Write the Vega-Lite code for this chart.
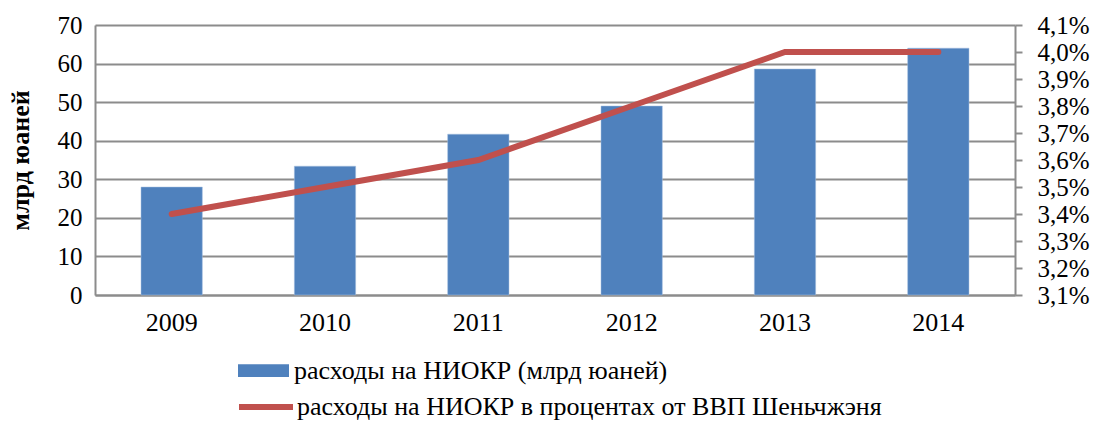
{
  "$schema": "https://vega.github.io/schema/vega-lite/v6.json",
  "width": 920,
  "height": 270,
  "autosize": {"type": "none"},
  "padding": {"left": 95, "top": 25, "right": 83, "bottom": 128},
  "background": "white",
  "config": {
    "font": "'Times New Roman', 'Liberation Serif', serif",
    "view": {"stroke": null},
    "axis": {"labelFont": "'Times New Roman', 'Liberation Serif', serif", "titleFont": "'Times New Roman', 'Liberation Serif', serif", "labelColor": "#000", "titleColor": "#000", "labelFontSize": 25},
    "legend": {"labelFont": "'Times New Roman', 'Liberation Serif', serif"}
  },
  "data": {
    "values": [
      {"year": "2009", "value": 28.0, "pct": 0.034},
      {"year": "2010", "value": 33.4, "pct": 0.035},
      {"year": "2011", "value": 41.7, "pct": 0.036},
      {"year": "2012", "value": 49.0, "pct": 0.038},
      {"year": "2013", "value": 58.6, "pct": 0.040},
      {"year": "2014", "value": 64.0, "pct": 0.040}
    ]
  },
  "encoding": {
    "x": {
      "field": "year", "type": "nominal",
      "scale": {"paddingInner": 0.6, "paddingOuter": 0.3},
      "axis": {"title": null, "labelAngle": 0, "labelFontSize": 26, "tickSize": 0, "labelPadding": 14, "domainColor": "#8c8c8c", "domainWidth": 2, "grid": false}
    }
  },
  "layer": [
    {
      "mark": {"type": "bar", "stroke": "#a9c1e0", "strokeWidth": 0.5},
      "encoding": {
        "y": {
          "field": "value", "type": "quantitative",
          "scale": {"domain": [0, 70], "nice": false},
          "axis": {"title": "млрд юаней", "titleFontSize": 26, "titleFontWeight": "bold", "titlePadding": 24, "values": [0,10,20,30,40,50,60,70], "tickSize": 0, "labelPadding": 13, "grid": true, "gridColor": "#8c8c8c", "gridWidth": 2, "domainColor": "#8c8c8c", "domainWidth": 2}
        },
        "fill": {
          "datum": "расходы на НИОКР (млрд юаней)",
          "scale": {"range": ["#4F81BD"]},
          "legend": {"orient": "none", "legendX": 143, "legendY": 320, "title": null, "symbolType": "M-1,-0.25L1,-0.25L1,0.25L-1,0.25Z", "symbolSize": 2601, "symbolStrokeWidth": 0, "symbolOpacity": 1, "labelFontSize": 26, "labelColor": "#000", "labelOffset": 5, "labelLimit": 1000, "padding": 0}
        }
      }
    },
    {
      "mark": {"type": "line", "strokeWidth": 6, "strokeCap": "round"},
      "encoding": {
        "y": {
          "field": "pct", "type": "quantitative",
          "scale": {"domain": [0.031, 0.041], "nice": false, "zero": false},
          "axis": {"orient": "right", "title": null, "values": [0.031,0.032,0.033,0.034,0.035,0.036,0.037,0.038,0.039,0.040,0.041], "labelExpr": "replace(format(datum.value, '.1%'), '.', ',')", "tickSize": 7, "tickColor": "#8c8c8c", "tickWidth": 2, "labelPadding": 15, "grid": false, "domainColor": "#8c8c8c", "domainWidth": 2}
        },
        "stroke": {
          "datum": "расходы на НИОКР в процентах  от ВВП Шеньчжэня",
          "scale": {"range": ["#C0504D"]},
          "legend": {"orient": "none", "legendX": 141, "legendY": 352, "title": null, "symbolType": "stroke", "symbolSize": 2916, "symbolStrokeWidth": 6, "labelFontSize": 26, "labelColor": "#000", "labelOffset": 1, "labelLimit": 1000, "padding": 0}
        }
      }
    }
  ],
  "resolve": {"scale": {"y": "independent"}}
}
